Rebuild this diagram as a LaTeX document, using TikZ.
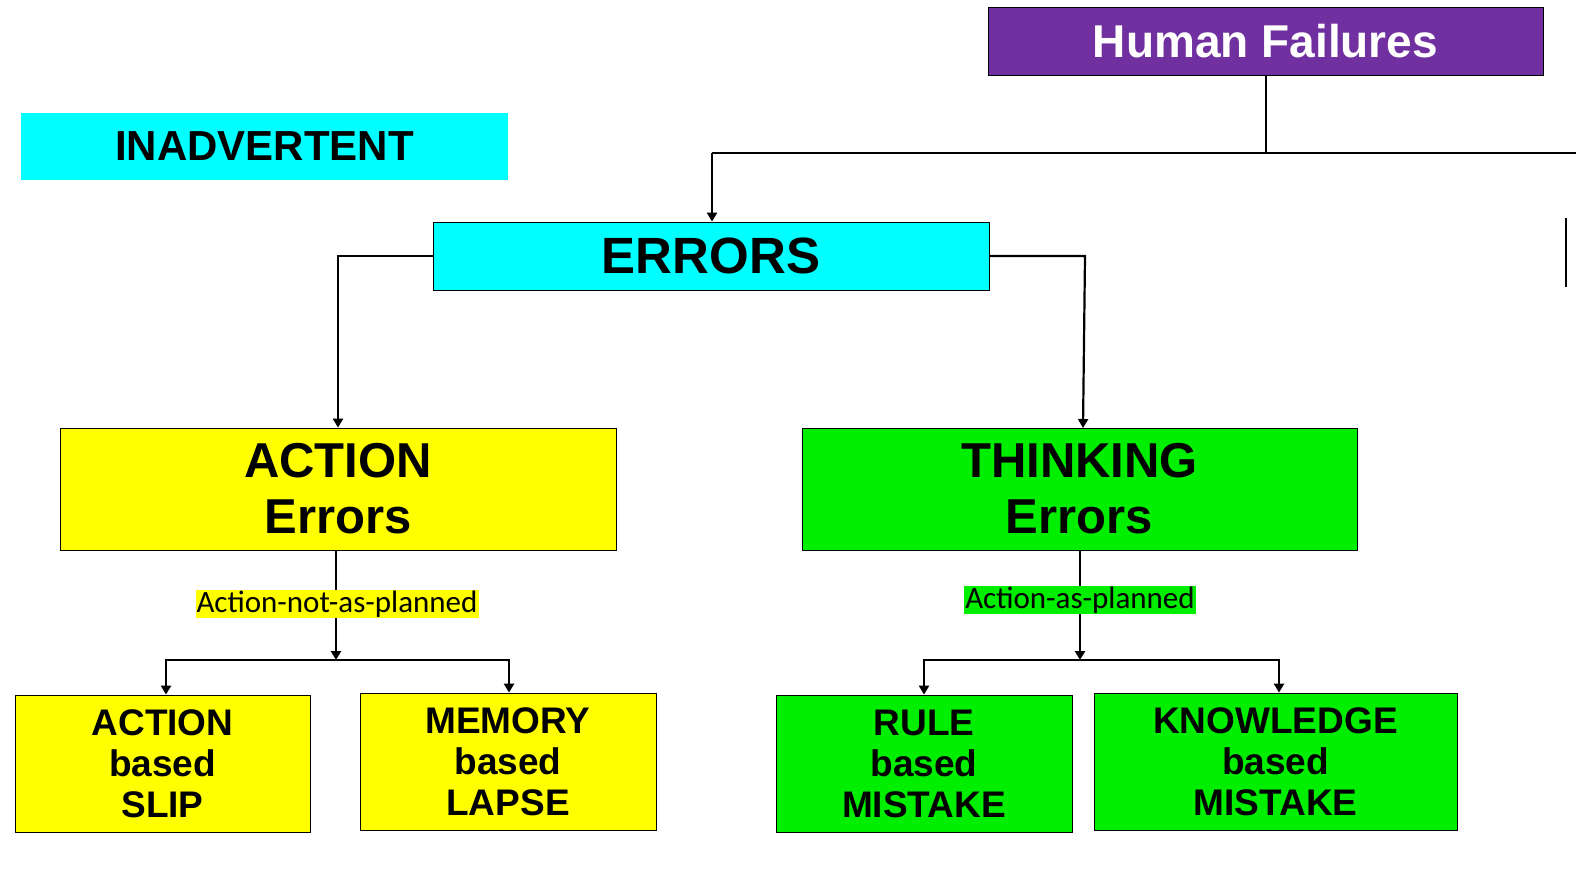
\documentclass[tikz,border=0pt]{standalone}
\usepackage{fontspec}
\setmainfont{Liberation Sans}
\newfontfamily\lbl{Carlito}
\usetikzlibrary{arrows.meta}
\definecolor{hpurple}{HTML}{7030A0}
\definecolor{hcyan}{HTML}{00FFFF}
\definecolor{hyellow}{HTML}{FFFF00}
\definecolor{hgreen}{HTML}{00EE00}
\begin{document}
\begin{tikzpicture}[x=1pt,y=-1pt,
 box/.style={draw=black,line width=0.8pt,inner sep=0pt,align=center,font=\bfseries},
 tag/.style={inner sep=1pt,font=\lbl\fontsize{31}{31}\selectfont},
 conn/.style={line width=2.2pt,-{Triangle[length=9pt,width=10pt]}},
 ln/.style={line width=2.2pt}]
\useasboundingbox (0,0) rectangle (1576,868);
\node[box,fill=hpurple,text=white,minimum width=555pt,minimum height=68pt,font=\bfseries\fontsize{46}{46}\selectfont] (hf) at (1265.5,41) {Human Failures};
\node[box,draw=none,fill=hcyan,minimum width=487pt,minimum height=67pt,font=\bfseries\fontsize{42}{42}\selectfont] (inad) at (264.5,146.5) {INADVERTENT};
\node[box,fill=hcyan,minimum width=556pt,minimum height=68pt,font=\bfseries\fontsize{51}{51}\selectfont] (err) at (711,256) {ERRORS};
\node[box,fill=hyellow,minimum width=556pt,minimum height=122pt,font=\bfseries\fontsize{49}{56}\selectfont] (ae) at (338,489) {ACTION\\Errors};
\node[box,fill=hgreen,minimum width=555pt,minimum height=122pt,font=\bfseries\fontsize{49}{56}\selectfont] (te) at (1079.5,489) {THINKING\\Errors};
\node[box,fill=hyellow,minimum width=295pt,minimum height=137pt,font=\bfseries\fontsize{37}{41}\selectfont] (slip) at (162.5,763.5) {ACTION\\based\\SLIP};
\node[box,fill=hyellow,minimum width=296pt,minimum height=137pt,font=\bfseries\fontsize{37}{41}\selectfont] (lapse) at (508,761.5) {MEMORY\\based\\LAPSE};
\node[box,fill=hgreen,minimum width=296pt,minimum height=137pt,font=\bfseries\fontsize{37}{41}\selectfont] (rule) at (924,763.5) {RULE\\based\\MISTAKE};
\node[box,fill=hgreen,minimum width=363pt,minimum height=137pt,font=\bfseries\fontsize{37}{41}\selectfont] (know) at (1275.5,761.5) {KNOWLEDGE\\based\\MISTAKE};
\coordinate (j1) at (1266,153);
\coordinate (jl) at (712,153);
\coordinate (jr) at (1576,153);
\coordinate (edgeA) at (1566,218);
\coordinate (edgeB) at (1566,287);
\draw[ln] (hf.south -| j1) -- (j1);
\draw[ln] (jl) -- (jr);
\draw[conn] (jl) -- (err.north -| jl);
\draw[line width=1.5pt] (edgeA) -- (edgeB);
\draw[conn] (err.west) -- (338,256) -- (ae.north);
\draw[conn] (err.east) -- (1085,256) -- (1083,428);
\coordinate (ja) at (336,660);
\coordinate (jt) at (1080,660);
\draw[conn] (ae.south -| ja) -- (ja);
\draw[conn] (te.south -| jt) -- (jt);
\node[tag,fill=hyellow] (anp) at (337,604) {Action-not-as-planned};
\node[tag,fill=hgreen] (aap) at (1080,600) {Action-as-planned};
\draw[ln] (166,660) -- (509,660);
\draw[ln] (924,660) -- (1279,660);
\draw[conn] (166,659) -- (slip.north -| 166,0);
\draw[conn] (509,659) -- (lapse.north -| 509,0);
\draw[conn] (924,659) -- (rule.north -| 924,0);
\draw[conn] (1279,659) -- (know.north -| 1279,0);
\end{tikzpicture}
\end{document}
